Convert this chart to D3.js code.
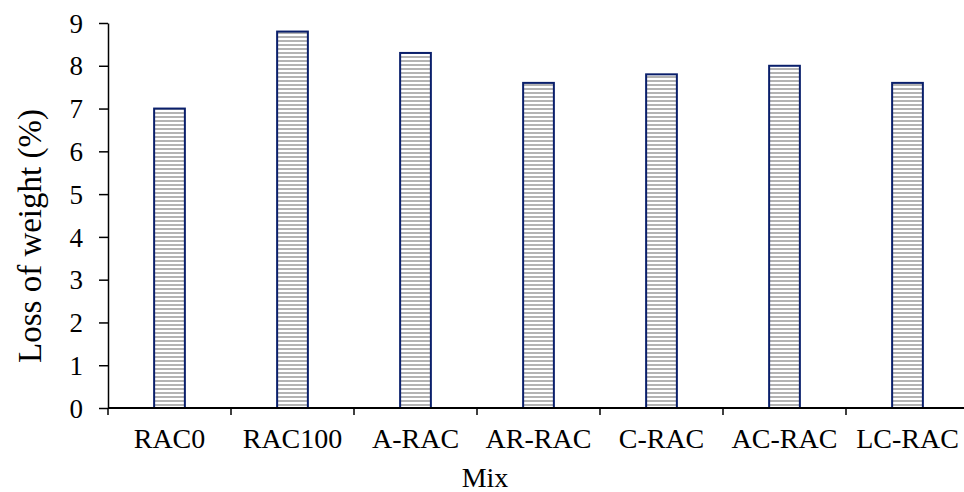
<!DOCTYPE html>
<html><head><meta charset="utf-8">
<script src="https://cdn.jsdelivr.net/npm/d3@7/dist/d3.min.js"></script>
<style>body{margin:0;background:#fff}svg{display:block}</style>
</head><body>
<svg id="c" width="964" height="492"></svg>
<script>
const categories = ["RAC0","RAC100","A-RAC","AR-RAC","C-RAC","AC-RAC","LC-RAC"];
const lossValues = [7.0, 8.8, 8.3, 7.6, 7.8, 8.0, 7.6];
const yTicks = [0,1,2,3,4,5,6,7,8,9];

const svg = d3.select("#c");
const x = d3.scaleBand().domain(categories).range([108, 969]).paddingInner(0.75).paddingOuter(0.375);
const xb = d3.scaleBand().domain(categories).range([108, 969]);
const y = d3.scaleLinear().domain([0,9]).range([408, 23]);

const defs = svg.append("defs");
const pat = defs.append("pattern").attr("id","stripe").attr("patternUnits","userSpaceOnUse")
  .attr("width",8).attr("height",4);
pat.append("rect").attr("width",8).attr("height",4).attr("fill","#fff");
pat.append("rect").attr("y",0).attr("width",8).attr("height",2).attr("fill","#b3b3b3");

const font = "Liberation Serif, Times New Roman, serif";

svg.selectAll("rect.bar").data(lossValues).join("rect").attr("class","bar")
  .attr("x",(d,i)=>x(categories[i])).attr("width",x.bandwidth())
  .attr("y",d=>y(d)).attr("height",d=>y(0)-y(d))
  .attr("fill","url(#stripe)").attr("stroke","#0a1f6b").attr("stroke-width",2);

// y axis
const ya = svg.append("g").attr("transform","translate(108,0)")
  .call(d3.axisLeft(y).tickValues(yTicks).tickSize(9).tickSizeOuter(0).tickPadding(16));
ya.select(".domain").attr("stroke","#000").attr("stroke-width",1.5);
ya.selectAll(".tick line").attr("stroke","#000").attr("stroke-width",1.5);
ya.selectAll("text").attr("font-family",font).attr("font-size",27).attr("fill","#000").attr("dy","0.34em");

// x axis
const xa = svg.append("g").attr("transform","translate(0,408)");
xa.append("line").attr("x1",108).attr("x2",964).attr("stroke","#000").attr("stroke-width",2);
const bounds = categories.map(c=>xb(c)).concat([xb(categories[6])+xb.bandwidth()]);
xa.selectAll("line.t").data(bounds).join("line").attr("class","t")
  .attr("x1",d=>d).attr("x2",d=>d).attr("y1",0).attr("y2",7).attr("stroke","#000").attr("stroke-width",1.5);
xa.selectAll("text").data(categories).join("text")
  .attr("x",d=>xb(d)+xb.bandwidth()/2).attr("y",40).attr("text-anchor","middle")
  .attr("font-family",font).attr("font-size",28).attr("fill","#000").text(d=>d);

svg.append("text").attr("x",485).attr("y",487).attr("text-anchor","middle")
  .attr("font-family",font).attr("font-size",28).attr("fill","#000").text("Mix");
svg.append("text").attr("transform","translate(41,236) rotate(-90)").attr("text-anchor","middle")
  .attr("font-family",font).attr("font-size",33).attr("fill","#000").text("Loss of weight (%)");
</script>
</body></html>
